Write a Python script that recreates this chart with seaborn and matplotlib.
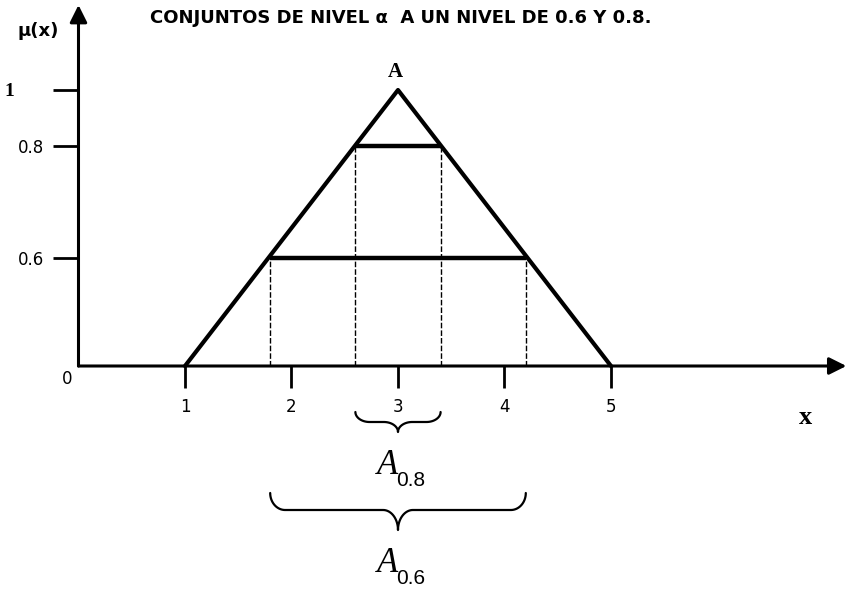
import numpy as np
import matplotlib
matplotlib.use("Agg")
import matplotlib.pyplot as plt
import seaborn as sns
import pandas as pd
from matplotlib.transforms import blended_transform_factory

# --- datos del dibujo ---
tri_x = [1, 3, 5]
tri_mu = [0, 1, 0]
alpha_levels = [0.6, 0.8]
cut_left = [1.8, 2.6]
cut_right = [4.2, 3.4]
cut_subs = ["0.6", "0.8"]
x_ticks = [1, 2, 3, 4, 5]
y_ticks = [0.6, 0.8, 1.0]
y_tick_labels = ["0.6", "0.8", "1"]
title = "CONJUNTOS DE NIVEL α  A UN NIVEL DE 0.6 Y 0.8."

# la escala vertical del dibujo original no es lineal (alturas en px)
MU_KNOTS = [-2.0, 0.0, 0.6, 0.8, 1.0, 2.0]
PX_KNOTS = [-360.0, 0.0, 108.0, 220.0, 276.0, 556.0]


def fwd(y):
    return np.interp(y, MU_KNOTS, PX_KNOTS)


def inv(d):
    return np.interp(d, PX_KNOTS, MU_KNOTS)


def draw_brace(ax, x0, x1, y_top, y_line, y_tip, trans, w=0.12):
    xm = (x0 + x1) / 2
    t = np.linspace(0, np.pi / 2, 25)
    # esquina izquierda
    xa = x0 + w * (1 - np.cos(t))
    ya = y_line + (y_top - y_line) * (1 - np.sin(t))
    # pico central (mitad izquierda)
    xb = xm - w + w * np.sin(t)
    yb = y_line - (y_line - y_tip) * (1 - np.cos(t))
    xs = np.concatenate([xa, xb])
    ys = np.concatenate([ya, yb])
    xs = np.concatenate([xs, (2 * xm - xs)[::-1]])
    ys = np.concatenate([ys, ys[::-1]])
    ax.plot(xs, ys, color="black", lw=1.6, transform=trans, clip_on=False)


sns.set_theme(style="white")
plt.rcParams["font.family"] = ["DejaVu Sans"]

fig = plt.figure(figsize=(8.47, 5.90), dpi=100)
ax = fig.add_axes([0, 0, 1, 1])
ax.set_yscale("function", functions=(fwd, inv))

# triangulo A
tri = pd.DataFrame({"x": tri_x, "mu": tri_mu})
sns.lineplot(data=tri, x="x", y="mu", color="black", lw=3, ax=ax, sort=False)

# cortes alfa
for lev, l, r in zip(alpha_levels, cut_left, cut_right):
    ax.hlines(lev, l, r, color="black", lw=3.2)
    ax.vlines([l, r], 0, lev, color="black", lw=1, linestyles=(0, (4, 1.5)))

ax.set_xlim(-0.737, 7.216)
ax.set_ylim(float(inv(-224)), float(inv(366)))

# ejes con flecha
for s in ["top", "right", "left", "bottom"]:
    ax.spines[s].set_visible(False)
ax.spines["left"].set_position(("data", 0))
ax.spines["bottom"].set_position(("data", 0))
arrow = dict(arrowstyle="-|>", lw=2.2, color="black", mutation_scale=26,
             shrinkA=0, shrinkB=0)
ax.annotate("", xy=(7.21, 0), xytext=(0, 0), arrowprops=arrow)
ax.annotate("", xy=(0, float(inv(361))), xytext=(0, 0), arrowprops=arrow)

ax.set_xticks(x_ticks)
ax.set_xticklabels([str(v) for v in x_ticks])
ax.set_yticks(y_ticks)
ax.set_yticklabels(y_tick_labels)
ax.yaxis.set_minor_locator(matplotlib.ticker.NullLocator())
ax.tick_params(axis="x", direction="out", length=16, width=2, pad=7,
               labelsize=12, color="black", labelcolor="black", bottom=True)
ax.tick_params(axis="y", direction="out", length=18, width=2, pad=7,
               labelsize=12, color="black", labelcolor="black", left=True)
one = ax.get_yticklabels()[-1]
one.set_fontfamily("Liberation Serif")
one.set_fontweight("bold")
one.set_fontsize(14)
ax.yaxis.get_major_ticks()[-1].set_pad(28)

ax.annotate("0", xy=(0, 0), xytext=(-11, -13), textcoords="offset pixels",
            ha="center", va="center", fontsize=12, color="black")
ax.annotate("A", xy=(3, 1), xytext=(-3, 18), textcoords="offset pixels",
            ha="center", va="center", fontsize=15, fontweight="bold",
            family="Liberation Serif", color="black")

ax.set_xlabel("x", fontsize=19, fontweight="bold", family="Liberation Serif",
              color="black", va="center")
ax.xaxis.set_label_coords(806 / 847, 1 - 417 / 590)
ax.set_ylabel("μ(x)", fontsize=13, fontweight="bold", rotation=0,
              color="black", ha="center", va="center")
ax.yaxis.set_label_coords(38 / 847, 1 - 31 / 590)

fig.suptitle(title, x=401 / 847, y=1 - 18 / 590, va="center",
             fontsize=13, fontweight="bold", color="black")

# llaves y etiquetas de los cortes
blend = blended_transform_factory(ax.transData, ax.transAxes)
brace_rows = {0.8: (412, 422, 432), 0.6: (493, 510, 530)}
for lev, l, r, sub in zip(alpha_levels, cut_left, cut_right, cut_subs):
    top, line, tip = brace_rows[lev]
    draw_brace(ax, l, r, 1 - top / 590, 1 - line / 590, 1 - tip / 590, blend,
               w=min(0.14, (r - l) / 6))
    ax.annotate("A", xy=((l + r) / 2, 1 - tip / 590), xycoords=blend,
                xytext=(-10, -33), textcoords="offset pixels", ha="center",
                va="center", fontsize=25, family="Liberation Serif",
                style="italic", color="black")
    ax.annotate(sub, xy=((l + r) / 2, 1 - tip / 590), xycoords=blend,
                xytext=(13, -48), textcoords="offset pixels", ha="center",
                va="center", fontsize=15, family="Liberation Sans",
                color="black")

fig.savefig("out.png", dpi=100)
